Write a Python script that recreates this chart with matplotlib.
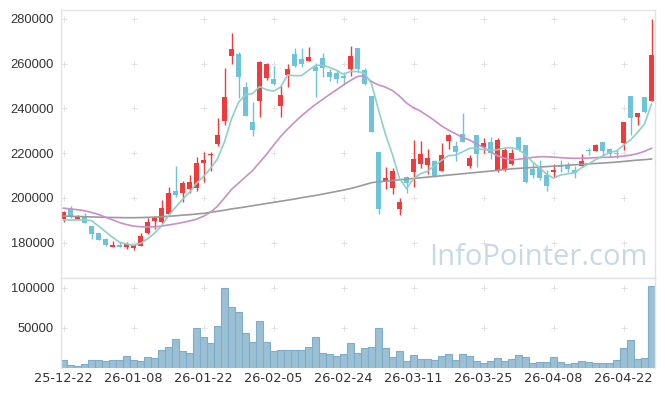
import numpy as np
import pandas as pd
import matplotlib
matplotlib.use("Agg")
from matplotlib import pyplot as plt

# KRX trading days, 25-12-22 .. 26-04-28
holidays = ["2025-12-25", "2025-12-31", "2026-01-01",
            "2026-02-16", "2026-02-17", "2026-02-18", "2026-03-02"]
dates = pd.bdate_range("2025-12-22", "2026-04-28", freq="C", holidays=holidays)

open_ = [190400, 194900, 190400, 191900, 187400, 184200, 181600, 178200, 178900, 178000,
         177600, 178600, 184200, 189800, 189400, 192700, 203100, 202300, 204100, 204600,
         215500, 219100, 224100, 234400, 263600, 264400, 249600, 233800, 243500, 253500,
         253200, 241200, 255000, 264200, 262000, 261400, 258400, 262400, 256300, 256000,
         254500, 257500, 266900, 257100, 245600, 220400, 207700, 204600, 195000, 209300,
         211700, 215200, 214700, 216600, 212200, 225600, 223200, 228400, 214400, 228100,
         222900, 225100, 212500, 212800, 215200, 227100, 223700, 212800, 214000, 210200,
         211600, 214400, 214400, 212500, 214400, 221400, 221100, 224900, 221700, 219900,
         224400, 245600, 236300, 245000, 243500]
high = [194100, 196200, 192400, 193100, 187400, 184300, 182100, 180900, 180100, 180100,
        179100, 184200, 190900, 191900, 199100, 204700, 214300, 207600, 210200, 218400,
        220700, 220700, 235600, 258000, 273600, 265100, 251700, 242800, 261000, 260500,
        259100, 250200, 259700, 266900, 266900, 267300, 260500, 264700, 257500, 257200,
        256400, 267900, 266900, 258000, 245600, 220700, 214000, 213200, 199800, 209900,
        225900, 225600, 221700, 216900, 224700, 228600, 225600, 237800, 219200, 228100,
        226700, 227400, 226700, 222200, 221700, 227100, 223700, 215500, 216900, 212500,
        215000, 216900, 216200, 214400, 219500, 222500, 224100, 224900, 222200, 221400,
        233800, 245600, 238100, 245200, 279900]
low = [189400, 190900, 190100, 188600, 181800, 181200, 178500, 178200, 178200, 177000,
       176600, 178500, 184000, 186100, 188900, 192700, 200500, 198000, 202100, 203200,
       207200, 212000, 223300, 232600, 259700, 244500, 236800, 227500, 236200, 252700,
       250500, 236200, 249700, 258700, 258700, 261400, 245300, 253900, 252400, 251200,
       250500, 254600, 256400, 250500, 229600, 192700, 203800, 201700, 192400, 202100,
       205000, 213200, 210500, 209300, 212200, 221700, 216500, 225100, 213200, 214000,
       220200, 217300, 211700, 212200, 214700, 221000, 206500, 208800, 208000, 203200,
       209500, 211700, 211700, 208900, 214400, 219200, 221100, 219200, 218400, 217700,
       221400, 228100, 232600, 238100, 243500]
close = [193600, 191300, 191600, 188900, 183900, 181300, 178900, 178900, 178200, 179400,
         178800, 183000, 189100, 191000, 195300, 202100, 201400, 206700, 207100, 215500,
         216900, 219800, 228100, 245100, 266600, 254200, 236800, 230500, 260600, 259700,
         250900, 245900, 257600, 259100, 259700, 262900, 256900, 258000, 254200, 253300,
         253800, 263500, 257600, 250800, 229600, 195000, 208900, 212200, 198000, 206800,
         217400, 219600, 217700, 209900, 219200, 228100, 220700, 225100, 217700, 219500,
         224700, 219900, 225900, 221400, 220200, 221400, 207200, 210200, 208800, 205500,
         212500, 214000, 212900, 211300, 216500, 221000, 223700, 221100, 219500, 219500,
         233800, 235600, 237800, 238500, 263900]
volume = [9600, 4200, 3000, 5400, 10500, 10500, 8400, 10500, 9600, 15400,
          10500, 9200, 14200, 13000, 23000, 26700, 36700, 21700, 19200, 50400,
          39200, 31700, 51700, 99200, 75400, 69200, 44200, 33000, 58000, 33000,
          21700, 23000, 23000, 23000, 23000, 26700, 38000, 19200, 17100, 14600,
          18000, 30900, 19200, 25500, 26700, 50400, 25500, 14200, 21700, 9200,
          16700, 11700, 11700, 10500, 15400, 18000, 10500, 18000, 15400, 9200,
          6700, 9200, 13000, 9200, 11700, 16700, 14200, 6700, 8000, 8000,
          14200, 8000, 5400, 6700, 9200, 8000, 6700, 6700, 6700, 10500,
          25500, 34600, 11700, 13000, 101700]

# 5-day line: first four points, rest is the 5-day mean of close
ma5_head = [190100, 190100, 190200, 190100]
ma20 = [195400, 195100, 194700, 194300, 193500, 192600, 191400, 190200, 189000, 188100,
        187400, 187100, 187000, 187100, 187400, 187900, 188400, 189000, 189700, 190500,
        191800, 193600, 196300, 200000, 203800, 206600, 209400, 212200, 215800, 219500,
        223500, 227400, 230700, 233800, 236700, 239300, 241800, 244000, 246200, 248300,
        250500, 252500, 254300, 254600, 252000, 250500, 249500, 248000, 245500, 242400,
        240300, 238800, 236700, 234600, 232200, 230300, 228700, 227000, 225900, 224100,
        222600, 220600, 218800, 217700, 217000, 217300, 217700, 218100, 218400, 218400,
        218200, 218000, 217800, 217700, 217700, 217800, 218000, 218100, 218200, 218400,
        218700, 219100, 219800, 220800, 222200]
ma60 = [191900, 191800, 191700, 191600, 191500, 191400, 191300, 191250, 191200, 191150,
        191150, 191200, 191300, 191400, 191600, 191800, 192000, 192300, 192500, 192800,
        193100, 193600, 194000, 194500, 195100, 195500, 196000, 196500, 197000, 197500,
        198000, 198500, 199000, 199500, 200100, 200600, 201100, 201700, 202300, 202900,
        203500, 204200, 205000, 205900, 206800, 207200, 207500, 207800, 208100, 208400,
        208700, 209000, 209300, 209600, 209900, 210200, 210500, 210800, 211100, 211400,
        211700, 212000, 212300, 212700, 213000, 213200, 213400, 213600, 213800, 214000,
        214200, 214400, 214600, 214800, 215000, 215200, 215400, 215600, 215800, 216000,
        216300, 216600, 216900, 217100, 217400]

df = pd.DataFrame({"open": open_, "high": high, "low": low, "close": close,
                   "volume": volume, "ma20": ma20, "ma60": ma60}, index=dates)
ma5 = df["close"].rolling(5).mean().to_numpy()
ma5[:4] = ma5_head
df["ma5"] = ma5

x = np.arange(len(df))
up = df["close"] >= df["open"]
RED, BLUE = "#ef3b3b", "#6cc3da"
cols = np.where(up, RED, BLUE)
GRID = "#e2e2e2"
SPINE = "#e3e3e3"
plt.rcParams["font.family"] = ["Liberation Sans", "DejaVu Sans"]

fig = plt.figure(figsize=(6.65, 3.96), dpi=100)
ax = fig.add_axes([61/665, 1-278/396, 594/665, 268/396])
axv = fig.add_axes([61/665, 1-368/396, 594/665, 90/396], sharex=ax)

xticks = np.arange(0, len(df), 10)
yticks = np.arange(180000, 280001, 20000)
vticks = [50000, 100000]

# grid crosses
gx, gy = np.meshgrid(xticks, yticks)
ax.plot(gx.ravel(), gy.ravel(), "+", color=GRID, ms=4, mew=0.7, zorder=0)
gx, gy = np.meshgrid(xticks, vticks)
axv.plot(gx.ravel(), gy.ravel(), "+", color=GRID, ms=4, mew=0.7, zorder=0)

ax.text(0.62, 0.05, "InfoPointer.com", transform=ax.transAxes, fontsize=21,
        family="Open Sans", color="#c6d9e5", ha="left", va="baseline", zorder=0)

# candles
ax.vlines(x, df["low"], df["high"], colors=cols, lw=1, zorder=2)
body = np.maximum((df["close"] - df["open"]).abs(), 500)
ax.bar(x, body, bottom=np.minimum(df["open"], df["close"]), width=0.75,
       color=cols, zorder=2)

ax.plot(x, df["ma60"], color="#9a9a9a", lw=1.2, zorder=3)
ax.plot(x, df["ma20"], color="#c98fc6", lw=1.2, zorder=3)
ax.plot(x, df["ma5"], color="#8fd0c5", lw=1.2, zorder=3)

axv.bar(x, df["volume"], width=1.0, color="#9bc0d3", edgecolor="#7eaccb", lw=0.8)

ax.set_xlim(-0.36, 84.5)
ax.set_ylim(164200, 284000)
axv.set_ylim(0, 112100)
ax.set_yticks(yticks)
axv.set_yticks(vticks)
axv.set_xticks(xticks)
axv.set_xticklabels([dates[i].strftime("%y-%m-%d") for i in xticks],
                    family="DejaVu Sans", fontsize=9.2)

for a in (ax, axv):
    a.tick_params(length=0, labelsize=9.3, colors="#333333")
    a.tick_params(axis="y", pad=5)
    for s in a.spines.values():
        s.set_color(SPINE)
        s.set_linewidth(1)
ax.tick_params(axis="x", labelbottom=False)
axv.tick_params(axis="x", pad=3)
axv.spines["bottom"].set_visible(False)

fig.savefig("out.png", dpi=100)
